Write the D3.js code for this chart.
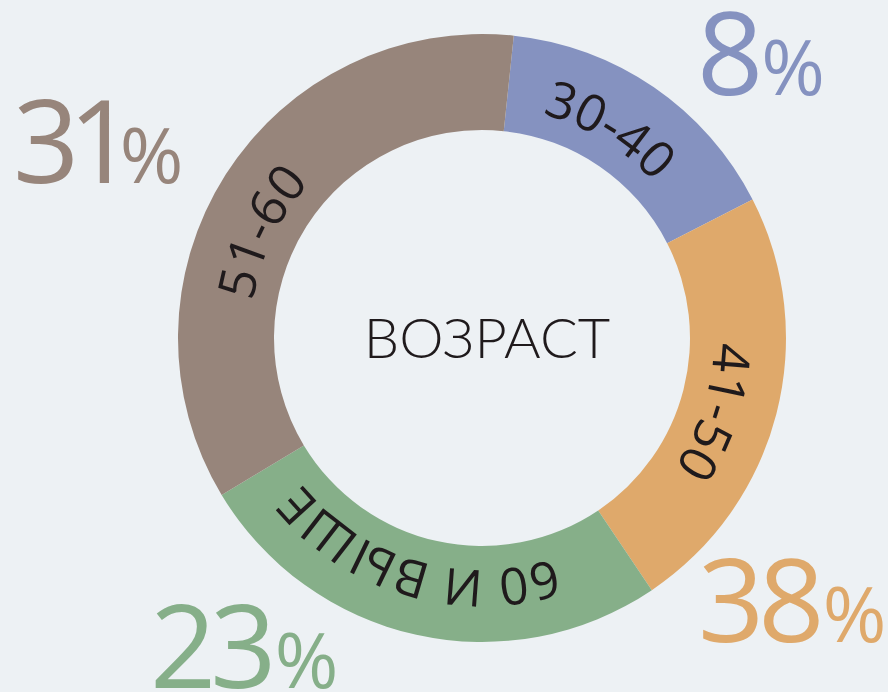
<!DOCTYPE html>
<html>
<head>
<meta charset="utf-8">
<script src="https://cdn.jsdelivr.net/npm/d3@7"></script>
<style>
  html, body { margin: 0; padding: 0; background: #edf1f4; }
  svg { display: block; }
</style>
</head>
<body>
<svg id="chart" width="888" height="692"></svg>
<script>
// ---- data ----
const categories = ["30-40", "41-50", "60 И ВЫШЕ", "51-60"];
const arcShares  = [15.8, 23.1, 25.8, 35.3];   // visual share of the ring
const percentLabels = ["8", "38", "23", "31"];  // printed percentages
const colors = ["#8592c0", "#dfa96b", "#86af89", "#97857b"];
const centerTitle = "ВОЗРАСТ";

// ---- layout ----
const W = 888, H = 692;
const cx = 482, cy = 338;
const outerR = 304, innerR = 208;
const labelR = 232;
const startDeg = 6;
const labelNudgeDeg = [-3, 3, 4, -7];
const pctPos = [[697, 95], [698, 642], [150, 688], [13, 183]];
const pctSpacing = [-6, -6, -6, -11];
const pctDx = [4, 4, 4, -4];

const svg = d3.select("#chart");
const g = svg.append("g").attr("transform", `translate(${cx},${cy})`);

const pie = d3.pie().sort(null).value(d => d)
  .startAngle(startDeg * Math.PI / 180)
  .endAngle((startDeg + 360) * Math.PI / 180);
const arcs = pie(arcShares);
const arcGen = d3.arc().innerRadius(innerR).outerRadius(outerR);

g.selectAll("path.slice").data(arcs).join("path")
  .attr("class", "slice")
  .attr("d", arcGen)
  .attr("fill", (d, i) => colors[i]);

// circular path for labels (clockwise from top, two turns for wrap)
const r = labelR;
g.append("path").attr("id", "lblPath").attr("fill", "none")
  .attr("d", `M0,${-r} A${r},${r} 0 1 1 0,${r} A${r},${r} 0 1 1 0,${-r} A${r},${r} 0 1 1 0,${r} A${r},${r} 0 1 1 0,${-r}`);

g.selectAll("text.cat").data(arcs).join("text")
  .attr("class", "cat")
  .attr("font-family", "'Open Sans', sans-serif")
  .attr("font-size", 51)
  .attr("fill", "#1f1a1c")
  .append("textPath")
  .attr("href", "#lblPath")
  .attr("text-anchor", "middle")
  .attr("startOffset", (d, i) => ((d.startAngle + d.endAngle) / 2 + labelNudgeDeg[i] * Math.PI / 180) * r)
  .text((d, i) => categories[i]);

// centre title
g.append("text")
  .attr("x", 5).attr("y", 20)
  .attr("text-anchor", "middle")
  .attr("font-family", "Lato, 'Open Sans', sans-serif")
  .attr("font-weight", 300)
  .attr("font-size", 56)
  .attr("fill", "#1f1a1c")
  .text(centerTitle);

// percentage labels
percentLabels.forEach((p, i) => {
  const t = svg.append("text")
    .attr("x", pctPos[i][0]).attr("y", pctPos[i][1])
    .attr("font-family", "'Open Sans', sans-serif")
    .attr("fill", colors[i]);
  t.append("tspan").attr("font-size", 116).attr("letter-spacing", pctSpacing[i]).text(p);
  t.append("tspan").attr("font-size", 77).attr("dx", pctDx[i]).text("%");
});
</script>
</body>
</html>
